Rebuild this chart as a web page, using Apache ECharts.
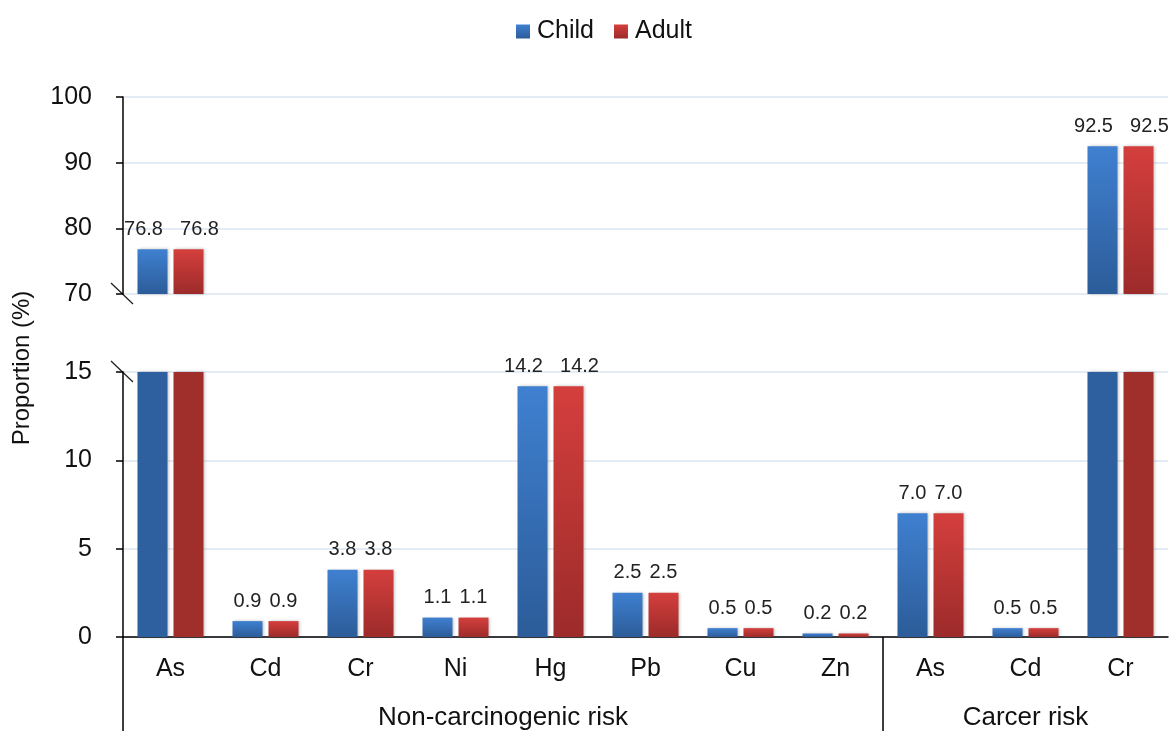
<!DOCTYPE html>
<html>
<head>
<meta charset="utf-8">
<script src="https://cdn.jsdelivr.net/npm/echarts@6/dist/echarts.min.js"></script>
<style>
  html, body { margin: 0; padding: 0; background: #fff; }
  #chart { width: 1169px; height: 731px; }
</style>
</head>
<body>
<div id="chart"></div>
<script>
// categories (metal) and the risk group each belongs to
var categories = ['As', 'Cd', 'Cr', 'Ni', 'Hg', 'Pb', 'Cu', 'Zn', 'As', 'Cd', 'Cr'];
var groups = ['Non-carcinogenic risk', 'Carcer risk'];
var groupSizes = [8, 3];

// proportion (%)
var childValues = [76.8, 0.9, 3.8, 1.1, 14.2, 2.5, 0.5, 0.2, 7.0, 0.5, 92.5];
var adultValues = [76.8, 0.9, 3.8, 1.1, 14.2, 2.5, 0.5, 0.2, 7.0, 0.5, 92.5];

// broken axis: upper and lower ranges
var upperTicks = [70, 80, 90, 100];
var lowerTicks = [0, 5, 10, 15];

var upperMin = upperTicks[0], upperMax = upperTicks[upperTicks.length - 1];
var lowerMin = lowerTicks[0], lowerMax = lowerTicks[lowerTicks.length - 1];

var FONT = 'Liberation Sans, Arial, sans-serif';

function grad(top, bottom) {
	return new echarts.graphic.LinearGradient(0, 0, 0, 1, [
		{offset: 0, color: top},
		{offset: 1, color: bottom}
	]);
}
var colors = {
	child: {top: '#3f80d0', bottom: '#2c5c99', solid: '#2e5f9e'},
	adult: {top: '#d43f3d', bottom: '#9c2b2a', solid: '#a02f2c'}
};

// upper part only carries values above the break
function upperData(arr) {
	return arr.map(function(v) { return v >= upperMin ? v : '-'; });
}
// lower part: clipped bars drawn solid, without label
function lowerData(arr, c) {
	return arr.map(function(v) {
		if (v > lowerMax) {
			return {value: v, itemStyle: {color: c.solid}, label: {show: false}};
		}
		return v;
	});
}

// group label positions (centre of each group, in category units)
var groupCenters = [], groupBounds = [0], acc = 0;
groupSizes.forEach(function(n) {
	groupCenters.push(acc + n / 2);
	acc += n;
	groupBounds.push(acc);
});

var labelStyle = {
	show: true,
	position: 'top',
	distance: 10,
	fontSize: 20,
	color: '#222',
	fontFamily: FONT,
	formatter: function(p) { return Number(p.value).toFixed(1); }
};

// long labels of a pair get pushed apart so they don't touch
function pushApart(dx) {
	return function(p) {
		return p.labelRect && p.labelRect.width > 32 ? {dx: dx} : {};
	};
}

var barShadow = {shadowBlur: 3, shadowColor: 'rgba(0,0,0,0.25)', shadowOffsetX: 1};

var yAxisCommon = {
	type: 'value',
	axisLine: {show: true, lineStyle: {color: '#000', width: 1.5}},
	axisTick: {show: true, length: 7, lineStyle: {color: '#000', width: 1.5}},
	axisLabel: {fontSize: 25, color: '#111', fontFamily: FONT, margin: 31},
	splitLine: {show: true, lineStyle: {color: '#dae5f2', width: 1.5}}
};

var myChart = echarts.init(document.getElementById('chart'));
var option = {
	animation: false,
	backgroundColor: '#fff',
	legend: {
		top: 14,
		left: 511,
		itemWidth: 14,
		itemHeight: 14,
		itemGap: 20,
		icon: 'rect',
		textStyle: {fontSize: 25, color: '#111', fontFamily: FONT, padding: [0, 0, 0, 2]},
		data: ['Child', 'Adult']
	},
	grid: [
		{left: 123, right: 1, top: 97, height: 197},
		{left: 123, right: 1, top: 372, height: 266}
	],
	xAxis: [
		{type: 'category', gridIndex: 0, data: categories, show: false},
		{
			type: 'category', gridIndex: 1, data: categories,
			axisLine: {show: true, lineStyle: {color: '#000', width: 1.5}},
			axisTick: {show: false},
			axisLabel: {fontSize: 25, color: '#111', fontFamily: FONT, margin: 20}
		},
		{
			type: 'value', gridIndex: 1, position: 'bottom',
			min: 0, max: categories.length,
			axisLine: {show: false},
			splitLine: {show: false},
			axisTick: {show: true, length: 95, customValues: groupBounds.slice(0, -1),
				lineStyle: {color: '#000', width: 1.5}},
			axisLabel: {
				customValues: groupCenters, margin: 68,
				fontSize: 26, color: '#111', fontFamily: FONT,
				formatter: function(v) {
					var i = groupCenters.indexOf(v);
					return i >= 0 ? groups[i] : '';
				}
			}
		}
	],
	yAxis: [
		echarts.util.merge({gridIndex: 0, min: upperMin, max: upperMax, interval: 10}, yAxisCommon, true),
		echarts.util.merge({gridIndex: 1, min: lowerMin, max: lowerMax, interval: 5}, yAxisCommon, true)
	],
	series: [
		{
			name: 'Child', type: 'bar', xAxisIndex: 0, yAxisIndex: 0,
			barWidth: 30, barGap: '20%',
			itemStyle: echarts.util.extend({color: grad(colors.child.top, colors.child.bottom)}, barShadow),
			label: labelStyle,
			labelLayout: pushApart(-9),
			data: upperData(childValues)
		},
		{
			name: 'Adult', type: 'bar', xAxisIndex: 0, yAxisIndex: 0,
			barWidth: 30, barGap: '20%',
			itemStyle: echarts.util.extend({color: grad(colors.adult.top, colors.adult.bottom)}, barShadow),
			label: labelStyle,
			labelLayout: pushApart(11),
			data: upperData(adultValues)
		},
		{
			name: 'Child', type: 'bar', xAxisIndex: 1, yAxisIndex: 1,
			barWidth: 30, barGap: '20%',
			itemStyle: echarts.util.extend({color: grad(colors.child.top, colors.child.bottom)}, barShadow),
			label: labelStyle,
			labelLayout: pushApart(-9),
			data: lowerData(childValues, colors.child)
		},
		{
			name: 'Adult', type: 'bar', xAxisIndex: 1, yAxisIndex: 1,
			barWidth: 30, barGap: '20%',
			itemStyle: echarts.util.extend({color: grad(colors.adult.top, colors.adult.bottom)}, barShadow),
			label: labelStyle,
			labelLayout: pushApart(11),
			data: lowerData(adultValues, colors.adult)
		}
	]
};
myChart.setOption(option);

// break marks and the y axis name
var pUp = myChart.convertToPixel({gridIndex: 0}, [0, upperMin]);
var pLo = myChart.convertToPixel({gridIndex: 1}, [0, lowerMax]);
var axisX = 123;
function breakMark(y) {
	return {
		type: 'line',
		shape: {x1: axisX - 12, y1: y - 11, x2: axisX + 10, y2: y + 10},
		style: {stroke: '#222', lineWidth: 1.3}
	};
}
myChart.setOption({
	graphic: [
		breakMark(pUp[1]),
		breakMark(pLo[1]),
		{
			type: 'text',
			x: 22, y: (pUp[1] + pLo[1]) / 2 + 35,
			rotation: Math.PI / 2,
			style: {
				text: 'Proportion (%)', fontSize: 24, fill: '#111', fontFamily: FONT,
				align: 'center', verticalAlign: 'middle'
			}
		}
	]
});
window.onresize = myChart.resize;
</script>
</body>
</html>
